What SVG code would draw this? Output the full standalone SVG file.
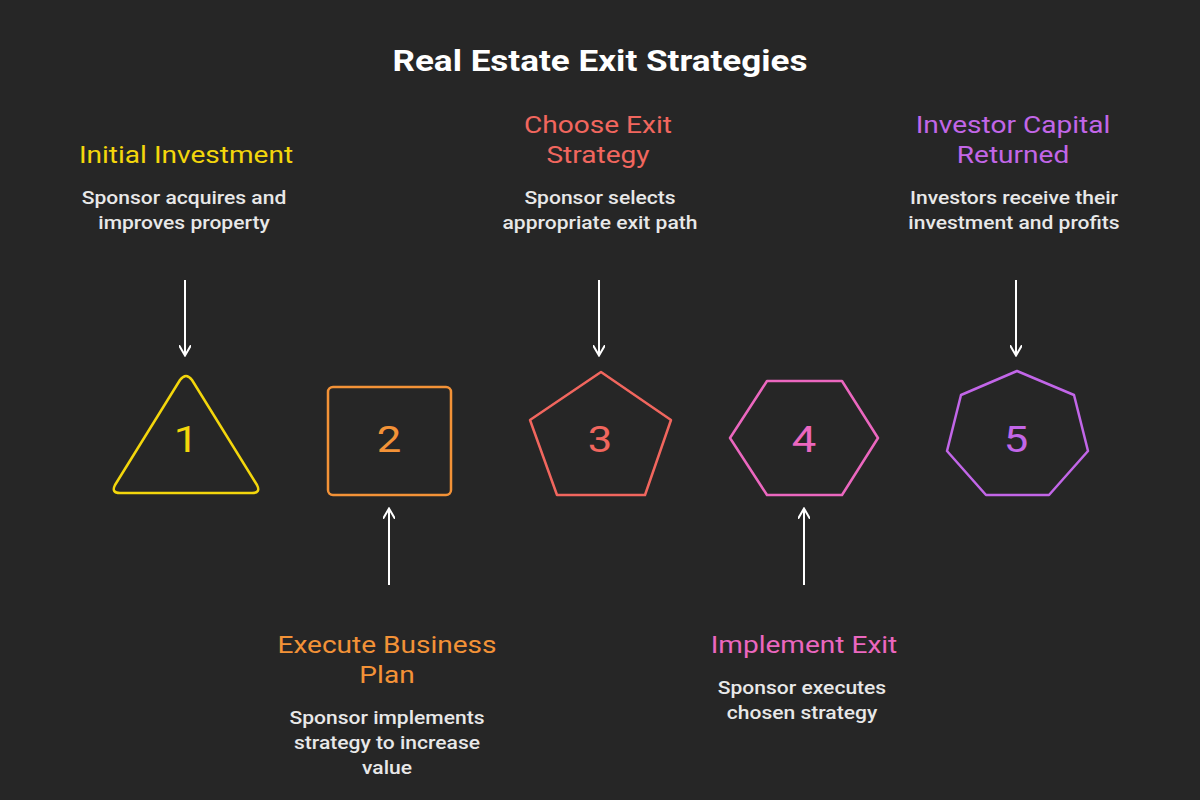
<svg xmlns="http://www.w3.org/2000/svg" width="1200" height="800" viewBox="0 0 1200 800">
<defs>
<style>
.bg{fill:#262626}
.title{font-family:Roboto,"Liberation Sans",sans-serif;font-weight:700;font-size:29px;fill:#ffffff;text-anchor:middle}
.head{font-family:Roboto,"Liberation Sans",sans-serif;font-weight:400;font-size:23px;text-anchor:middle}
.desc{font-family:Roboto,"Liberation Sans",sans-serif;font-weight:500;font-size:18px;fill:#e8e8e8;text-anchor:middle}
.num{font-family:Roboto,"Liberation Sans",sans-serif;font-weight:400;font-size:37px;text-anchor:middle}
.shape{fill:none;stroke-width:2.5;stroke-linejoin:round}
.arrow{stroke:#ffffff;stroke-width:2;fill:none}
</style>
<marker id="ah" viewBox="0 0 12 12" refX="10" refY="6" markerWidth="12" markerHeight="12" markerUnits="userSpaceOnUse" orient="auto">
<path d="M1,0.5 L10.5,6 L1,11.5" fill="none" stroke="#ffffff" stroke-width="2" stroke-linecap="round"/>
</marker>
</defs>
<rect class="bg" x="0" y="0" width="1200" height="800"/>
<text class="title" transform="translate(600 0) scale(1.21 1)" x="0" y="71">Real Estate Exit Strategies</text>

<g id="connectors">
<line class="arrow" x1="185" y1="280" x2="185" y2="355" marker-end="url(#ah)"/>
<line class="arrow" x1="599" y1="280" x2="599" y2="355" marker-end="url(#ah)"/>
<line class="arrow" x1="1016" y1="280" x2="1016" y2="355" marker-end="url(#ah)"/>
<line class="arrow" x1="389" y1="585" x2="389" y2="509" marker-end="url(#ah)"/>
<line class="arrow" x1="804" y1="585" x2="804" y2="509" marker-end="url(#ah)"/>
</g>

<g id="node1">
<path class="shape" stroke="#f3d60c" d="M180,380 Q186,372 192,380 L257,485 Q261,493 252,493 L120,493 Q111,493 115,485 Z"/>
<text class="num" fill="#f3d60c" transform="translate(186 0) scale(1.18 1)" x="0" y="452">1</text>
<text class="head" fill="#f3d60c" transform="translate(186 0) scale(1.22 1)" x="0" y="163">Initial Investment</text>
<text class="desc" transform="translate(184 0) scale(1.17 1)" x="0" y="204">Sponsor acquires and</text>
<text class="desc" transform="translate(184 0) scale(1.17 1)" x="0" y="229">improves property</text>
</g>

<g id="node2">
<rect class="shape" stroke="#f39237" x="328" y="387" width="123" height="108" rx="5"/>
<text class="num" fill="#f39237" transform="translate(389 0) scale(1.18 1)" x="0" y="452">2</text>
<text class="head" fill="#f39237" transform="translate(387 0) scale(1.22 1)" x="0" y="653">Execute Business</text>
<text class="head" fill="#f39237" transform="translate(387 0) scale(1.22 1)" x="0" y="683">Plan</text>
<text class="desc" transform="translate(387 0) scale(1.17 1)" x="0" y="724">Sponsor implements</text>
<text class="desc" transform="translate(387 0) scale(1.17 1)" x="0" y="749">strategy to increase</text>
<text class="desc" transform="translate(387 0) scale(1.17 1)" x="0" y="774">value</text>
</g>

<g id="node3">
<polygon class="shape" stroke="#f1665e" points="601,372 671,420 645,495 557,495 530,420"/>
<text class="num" fill="#f1665e" transform="translate(600 0) scale(1.18 1)" x="0" y="452">3</text>
<text class="head" fill="#f1665e" transform="translate(598 0) scale(1.22 1)" x="0" y="133">Choose Exit</text>
<text class="head" fill="#f1665e" transform="translate(598 0) scale(1.22 1)" x="0" y="163">Strategy</text>
<text class="desc" transform="translate(600 0) scale(1.17 1)" x="0" y="204">Sponsor selects</text>
<text class="desc" transform="translate(600 0) scale(1.17 1)" x="0" y="229">appropriate exit path</text>
</g>

<g id="node4">
<polygon class="shape" stroke="#eb67bf" points="767,381 842,381 878,438 842,495 767,495 730,438"/>
<text class="num" fill="#eb67bf" transform="translate(804 0) scale(1.18 1)" x="0" y="452">4</text>
<text class="head" fill="#eb67bf" transform="translate(804 0) scale(1.22 1)" x="0" y="653">Implement Exit</text>
<text class="desc" transform="translate(802 0) scale(1.17 1)" x="0" y="694">Sponsor executes</text>
<text class="desc" transform="translate(802 0) scale(1.17 1)" x="0" y="719">chosen strategy</text>
</g>

<g id="node5">
<polygon class="shape" stroke="#c266e8" points="1017,371 1074,395 1088,451 1049,495 986,495 947,451 961,395"/>
<text class="num" fill="#c266e8" transform="translate(1016 0) scale(1.18 1)" x="0" y="452">5</text>
<text class="head" fill="#c266e8" transform="translate(1013 0) scale(1.22 1)" x="0" y="133">Investor Capital</text>
<text class="head" fill="#c266e8" transform="translate(1013 0) scale(1.22 1)" x="0" y="163">Returned</text>
<text class="desc" transform="translate(1014 0) scale(1.17 1)" x="0" y="204">Investors receive their</text>
<text class="desc" transform="translate(1014 0) scale(1.17 1)" x="0" y="229">investment and profits</text>
</g>
</svg>
